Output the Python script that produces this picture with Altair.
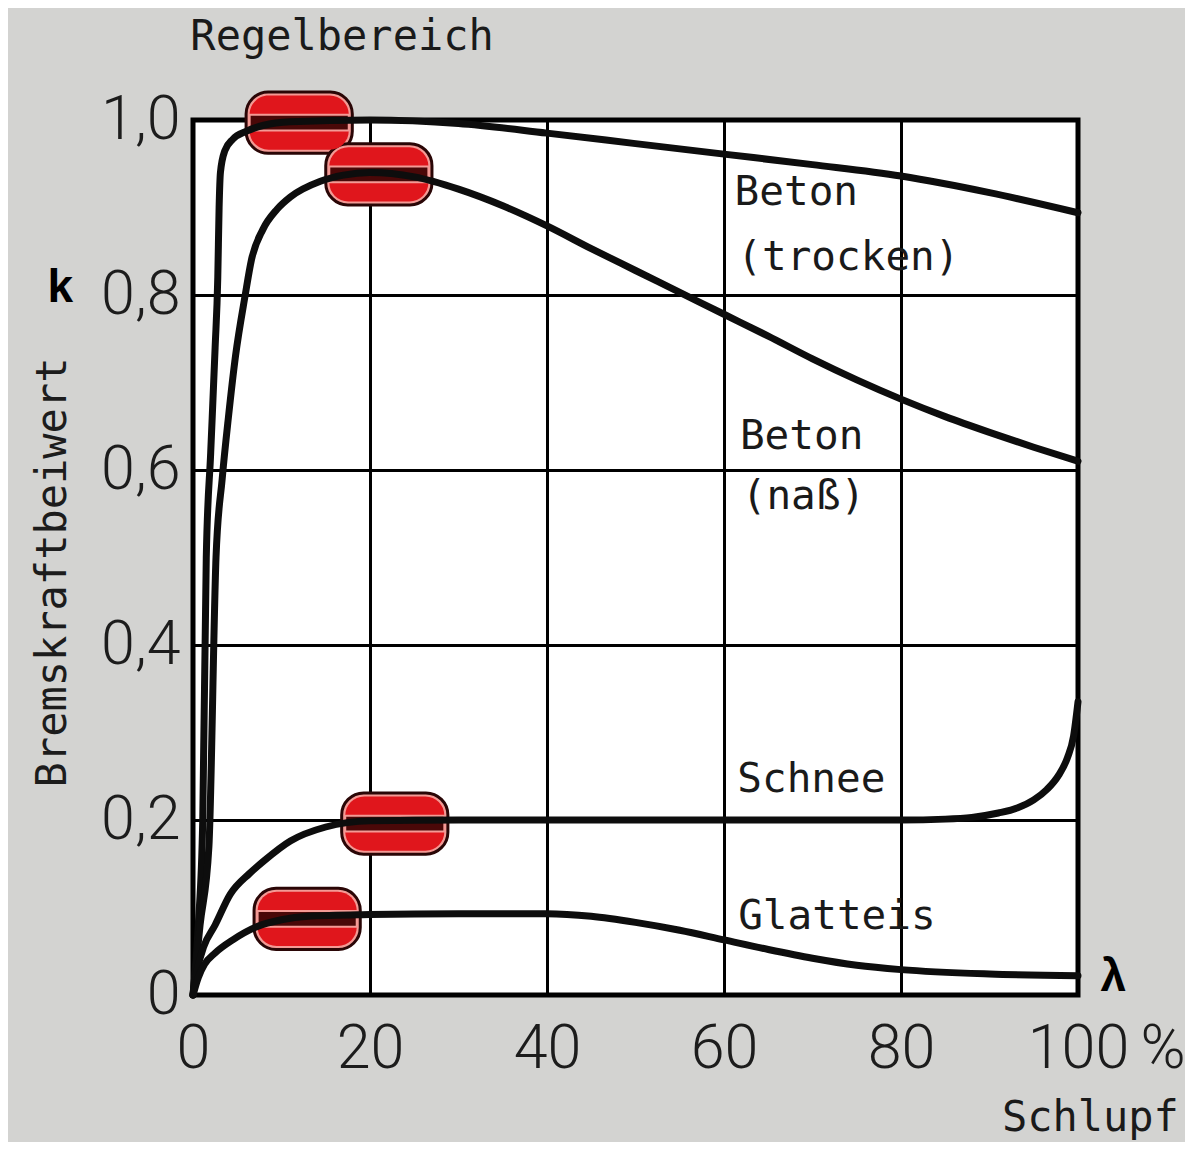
import altair as alt
import pandas as pd

# ---------------- data ----------------
x_ticks = [0, 20, 40, 60, 80, 100]
k_ticks = [0, 0.2, 0.4, 0.6, 0.8, 1.0]

trocken_x = [0, 0.6, 1.1, 1.5, 2.0, 2.5, 2.8, 2.95, 3.1, 3.6, 4.5, 6, 8, 11, 20, 30, 40, 50, 60, 70, 80, 90, 100]
trocken_k = [0, 0.08, 0.2, 0.5, 0.62, 0.74, 0.82, 0.9, 0.94, 0.965, 0.978, 0.987, 0.994, 0.998, 1.0, 0.996,
             0.985, 0.973, 0.961, 0.949, 0.936, 0.917, 0.894]

nass_x = [0, 0.8, 1.8, 2.6, 3.3, 4.0, 4.8, 5.9, 6.6, 7.9, 9.5, 11, 14.4, 17, 20, 25, 30, 35, 40, 45, 50,
          55, 60, 65, 70, 75, 80, 85, 90, 95, 100]
nass_k = [0, 0.08, 0.17, 0.5, 0.59, 0.66, 0.73, 0.8, 0.84, 0.875, 0.898, 0.912, 0.93, 0.937, 0.94, 0.935,
          0.921, 0.902, 0.879, 0.853, 0.828, 0.803, 0.778, 0.753, 0.727, 0.703, 0.681, 0.661, 0.643, 0.626, 0.61]

schnee_x = [0, 0.5, 1.2, 2.5, 4.2, 6.4, 8.1, 11, 15, 20, 30, 50, 70, 80, 85, 88, 91, 93.2, 95, 96.5,
            97.8, 98.8, 99.5, 100]
schnee_k = [0, 0.03, 0.055, 0.08, 0.115, 0.139, 0.154, 0.176, 0.192, 0.199, 0.2, 0.2, 0.2, 0.2, 0.201,
            0.203, 0.208, 0.214, 0.223, 0.235, 0.251, 0.271, 0.296, 0.335]

glatteis_x = [0, 0.6, 1.3, 2.5, 4.5, 7.2, 10, 13, 20, 30, 40, 45, 50, 55, 60, 65, 70, 75, 80, 90, 100]
glatteis_k = [0, 0.02, 0.035, 0.048, 0.063, 0.078, 0.086, 0.09, 0.092, 0.093, 0.093, 0.09, 0.083, 0.074,
              0.063, 0.052, 0.042, 0.034, 0.029, 0.024, 0.022]

series_names = ["Beton (trocken)", "Beton (naß)", "Schnee", "Glatteis"]

# control range ("Regelbereich") markers: centre of each pill
pill_x = [12.0, 21.0, 22.8, 12.9]
pill_k = [0.997, 0.938, 0.196, 0.087]

# curve labels
label_lines = ["Beton", "(trocken)", "Beton", "(naß)", "Schnee", "Glatteis"]
label_x = [61.2, 61.5, 61.8, 62.0, 61.5, 61.6]
label_k = [0.917, 0.842, 0.638, 0.569, 0.246, 0.089]

# ---------------- tables ----------------
rows = []
for name, xs_, ks_ in zip(series_names,
                          [trocken_x, nass_x, schnee_x, glatteis_x],
                          [trocken_k, nass_k, schnee_k, glatteis_k]):
    for i, (xv, kv) in enumerate(zip(xs_, ks_)):
        rows.append({"series": name, "x": xv, "k": kv, "order": i})
curves = pd.DataFrame(rows)

HW, HH = 6.0, 0.035        # pill half width / half height (data units)
IW, IH = 5.6, 0.031        # inner red area
MH = 0.009                 # dark middle band
pills = pd.DataFrame({"series": series_names, "cx": pill_x, "ck": pill_k})
pills["x0"] = pills.cx - HW
pills["x1"] = pills.cx + HW
pills["k0"] = pills.ck - HH
pills["k1"] = pills.ck + HH
pills["ix0"] = pills.cx - IW
pills["ix1"] = pills.cx + IW
pills["ik0"] = pills.ck - IH
pills["ik1"] = pills.ck + IH
pills["mk0"] = pills.ck - MH
pills["mk1"] = pills.ck + MH

labels = pd.DataFrame({"text": label_lines, "x": label_x, "k": label_k})

xs = alt.Scale(domain=[0, 100], nice=False, zero=False)
ys = alt.Scale(domain=[0, 1], nice=False, zero=False)

MONO = "DejaVu Sans Mono"
NUMF = "Roboto"
NUMSIZE = 61

base_x = alt.X("x:Q", scale=xs, axis=alt.Axis(
    values=x_ticks, title=None, labelFont=NUMF, labelFontSize=NUMSIZE, labelFontWeight=300,
    labelColor="#1c1c1c", labelPadding=54, labelBaseline="middle", labelFlush=False,
    labelOverlap=False, grid=True,
    gridColor="#000000", gridWidth=3, gridOpacity=1, domain=False, ticks=False))
base_y = alt.Y("k:Q", scale=ys, axis=alt.Axis(
    values=k_ticks, title="Bremskraftbeiwert", titleFont=MONO, titleFontSize=42,
    titleFontWeight="normal", titleColor="#1c1c1c", titleAngle=270, titleX=-141, titleY=452,
    titleAlign="center", titleBaseline="middle",
    labelExpr="datum.value == 0 ? '0' : replace(format(datum.value, '.1f'), '.', ',')",
    labelFont=NUMF, labelFontSize=NUMSIZE, labelFontWeight=300, labelColor="#1c1c1c",
    labelPadding=13, labelBaseline="middle", labelFlush=False, labelOverlap=False,
    grid=True, gridColor="#000000", gridWidth=3,
    gridOpacity=1, domain=False, ticks=False))

pill_outer = alt.Chart(pills).mark_rect(
    fill="#f39a95", stroke="#2a0606", strokeWidth=3, cornerRadius=22).encode(
    x=alt.X("x0:Q", scale=xs), x2="x1:Q", y=alt.Y("k0:Q", scale=ys), y2="k1:Q")
pill_inner = alt.Chart(pills).mark_rect(fill="#e0161c", cornerRadius=19).encode(
    x=alt.X("ix0:Q", scale=xs), x2="ix1:Q", y=alt.Y("ik0:Q", scale=ys), y2="ik1:Q")
pill_mid = alt.Chart(pills).mark_rect(fill="#4a0808", stroke="#f39a95", strokeWidth=2).encode(
    x=alt.X("ix0:Q", scale=xs), x2="ix1:Q", y=alt.Y("mk0:Q", scale=ys), y2="mk1:Q")

lines = alt.Chart(curves).mark_line(
    color="#0d0d0d", strokeWidth=7, interpolate="monotone", strokeCap="round").encode(
    x=base_x, y=base_y, detail="series:N", order="order:Q")

curve_labels = alt.Chart(labels).mark_text(
    font=MONO, fontSize=41, align="left", baseline="middle", color="#1a1a1a").encode(
    x=alt.X("x:Q", scale=xs), y=alt.Y("k:Q", scale=ys), text="text:N")

# annotation texts
ann_regel = pd.DataFrame({"text": ["Regelbereich"], "x": [-0.3], "k": [1.095]})
ann_schlupf = pd.DataFrame({"text": ["Schlupf"], "x": [101.4], "k": [-0.141]})
ann_bold = pd.DataFrame({"text": ["k", "λ"], "x": [-15.0, 104.0], "k": [0.808, 0.021]})
ann_pct = pd.DataFrame({"text": ["%"], "x": [109.6], "k": [-0.063]})

t_regel = alt.Chart(ann_regel).mark_text(
    font=MONO, fontSize=42, align="left", baseline="middle", color="#1a1a1a").encode(
    x=alt.X("x:Q", scale=xs), y=alt.Y("k:Q", scale=ys), text="text:N")
t_schlupf = alt.Chart(ann_schlupf).mark_text(
    font=MONO, fontSize=42, align="center", baseline="middle", color="#1a1a1a").encode(
    x=alt.X("x:Q", scale=xs), y=alt.Y("k:Q", scale=ys), text="text:N")
t_bold = alt.Chart(ann_bold).mark_text(
    font="Liberation Sans", fontSize=46, fontWeight="bold", align="center", baseline="middle",
    color="#000000").encode(
    x=alt.X("x:Q", scale=xs), y=alt.Y("k:Q", scale=ys), text="text:N")
t_pct = alt.Chart(ann_pct).mark_text(
    font=NUMF, fontSize=NUMSIZE, fontWeight=300, align="center", baseline="middle",
    color="#1c1c1c").encode(
    x=alt.X("x:Q", scale=xs), y=alt.Y("k:Q", scale=ys), text="text:N")

chart = alt.layer(
    pill_outer, pill_inner, pill_mid, lines,
    curve_labels, t_regel, t_schlupf, t_bold, t_pct,
).properties(
    width=885, height=875,
    autosize=alt.AutoSizeParams(type="none"),
    padding={"left": 185, "top": 112, "right": 107, "bottom": 147},
).configure(
    background="#d3d3d1",
).configure_view(
    fill="#ffffff", stroke="#000000", strokeWidth=5,
)

chart.save("out.html", embed_options={"renderer": "svg", "actions": False})
